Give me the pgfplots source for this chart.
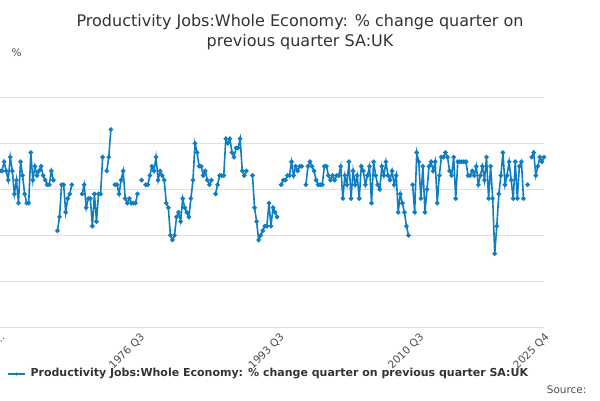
\documentclass[border=0pt]{standalone}
\usepackage{pgfplots}
\pgfplotsset{compat=1.18}
\usepackage{fontspec}
\setmainfont{DejaVu Sans}
\definecolor{ons}{HTML}{0F7DC2}
\begin{document}
\begin{tikzpicture}[x=1pt,y=1pt]
\path[use as bounding box] (0,0) rectangle (600,400);
\begin{axis}[at={(0,158)},anchor=south west,
 scale only axis,width=544,height=230,
 xmin=0,xmax=265,ymin=-3,ymax=2,
 ytick={-3,-2,-1,0,1,2},
 xtick={0,68,136,204,265},
 xticklabels={1959 \dots,1976 Q3,1993 Q3,2010 Q3,2025 Q4},
 x tick label style={rotate=45,anchor=north east,font=\fontsize{10.5}{12}\selectfont,text=black!70},
 y tick label style={font=\fontsize{10.5}{12}\selectfont,text=black!70},
 /pgf/number format/assume math mode=true,
 ymajorgrids, grid style={black!12},
 axis line style={draw=none}, major tick length=0pt,
 xtick style={draw=none},
 unbounded coords=jump, clip=false]
\addplot[ons,line width=1.6pt,mark=*,mark size=1.4pt] table[x expr=\coordindex,y index=0,header=false]{
0.4
0.4
0.6
0.4
0.2
0.7
0.4
-0.1
0.2
-0.3
0.6
0.3
-0.1
-0.3
-0.3
0.8
0.2
0.5
0.3
0.4
0.5
0.3
0.2
0.1
0.1
0.4
0.2
nan
-0.9
-0.6
0.1
0.1
-0.5
-0.2
-0.1
0.1
nan
nan
nan
nan
-0.1
0.1
-0.4
-0.2
-0.2
-0.8
-0.1
-0.7
-0.1
-0.1
0.7
nan
0.4
0.7
1.3
nan
0.1
0.1
-0.1
0.2
0.4
-0.2
-0.3
-0.2
-0.3
-0.3
-0.3
-0.1
nan
0.2
nan
0.1
0.1
0.3
0.5
0.4
0.7
0.2
0.4
0.3
0.2
-0.3
-0.4
-1.0
-1.1
-1.0
-0.6
-0.5
-0.7
-0.2
-0.4
-0.5
-0.6
-0.2
0.2
1.0
0.8
0.5
0.5
0.3
0.4
0.2
0.1
0.2
nan
-0.1
0.1
0.3
0.3
0.3
1.1
1.0
1.1
0.8
0.7
0.9
0.9
1.1
0.4
0.3
0.4
nan
nan
0.3
-0.4
-0.7
-1.1
-1.0
-0.9
-0.8
-0.8
-0.3
-0.8
-0.4
-0.5
-0.6
nan
0.1
0.2
0.2
0.3
0.3
0.6
0.3
0.5
0.4
0.5
0.5
nan
0.1
0.5
0.6
0.5
0.4
0.2
0.1
0.1
0.1
0.5
0.5
0.3
0.2
0.3
0.2
0.3
0.3
0.5
-0.2
0.3
0.1
0.6
-0.2
0.4
0.1
0.3
-0.2
0.5
0.4
0.1
0.3
0.5
-0.3
0.6
0.3
0.1
0.0
0.5
0.3
0.6
0.3
0.2
0.4
0.1
0.3
-0.5
-0.1
-0.3
-0.5
-0.8
-1.0
nan
0.1
-0.5
0.8
0.6
-0.2
0.5
-0.5
0.0
0.5
0.6
0.4
0.6
-0.3
0.3
0.7
0.7
0.8
0.7
0.4
0.3
0.7
-0.2
0.6
0.6
0.6
0.6
0.6
0.3
0.3
0.4
0.3
0.5
0.1
0.3
0.5
0.2
0.7
-0.2
0.5
-0.2
-1.4
-0.8
-0.1
0.3
0.8
0.1
0.3
0.6
0.2
-0.2
0.6
-0.2
0.5
0.6
-0.2
nan
0.1
nan
0.7
0.8
0.3
0.5
0.7
0.6
0.7
};
\end{axis}
\node[anchor=center,font=\fontsize{16}{20}\selectfont,text=black!80,align=center] at (300,368) {Productivity Jobs:Whole Economy: \% change quarter on\\previous quarter SA:UK};
\node[anchor=west,font=\fontsize{10.5}{12}\selectfont,text=black!70] at (8,347) {\%};
\draw[ons,line width=1.6pt] (8,26) -- (25,26);
\fill[ons] (16.5,26) circle (1.6pt);
\node[anchor=west,font=\bfseries\fontsize{11}{13}\selectfont,text=black!80] at (27,26) {Productivity Jobs:Whole Economy: \% change quarter on previous quarter SA:UK};
\node[anchor=east,font=\fontsize{10.5}{12}\selectfont,text=black!70] at (590,10) {Source:};
\end{tikzpicture}
\end{document}
